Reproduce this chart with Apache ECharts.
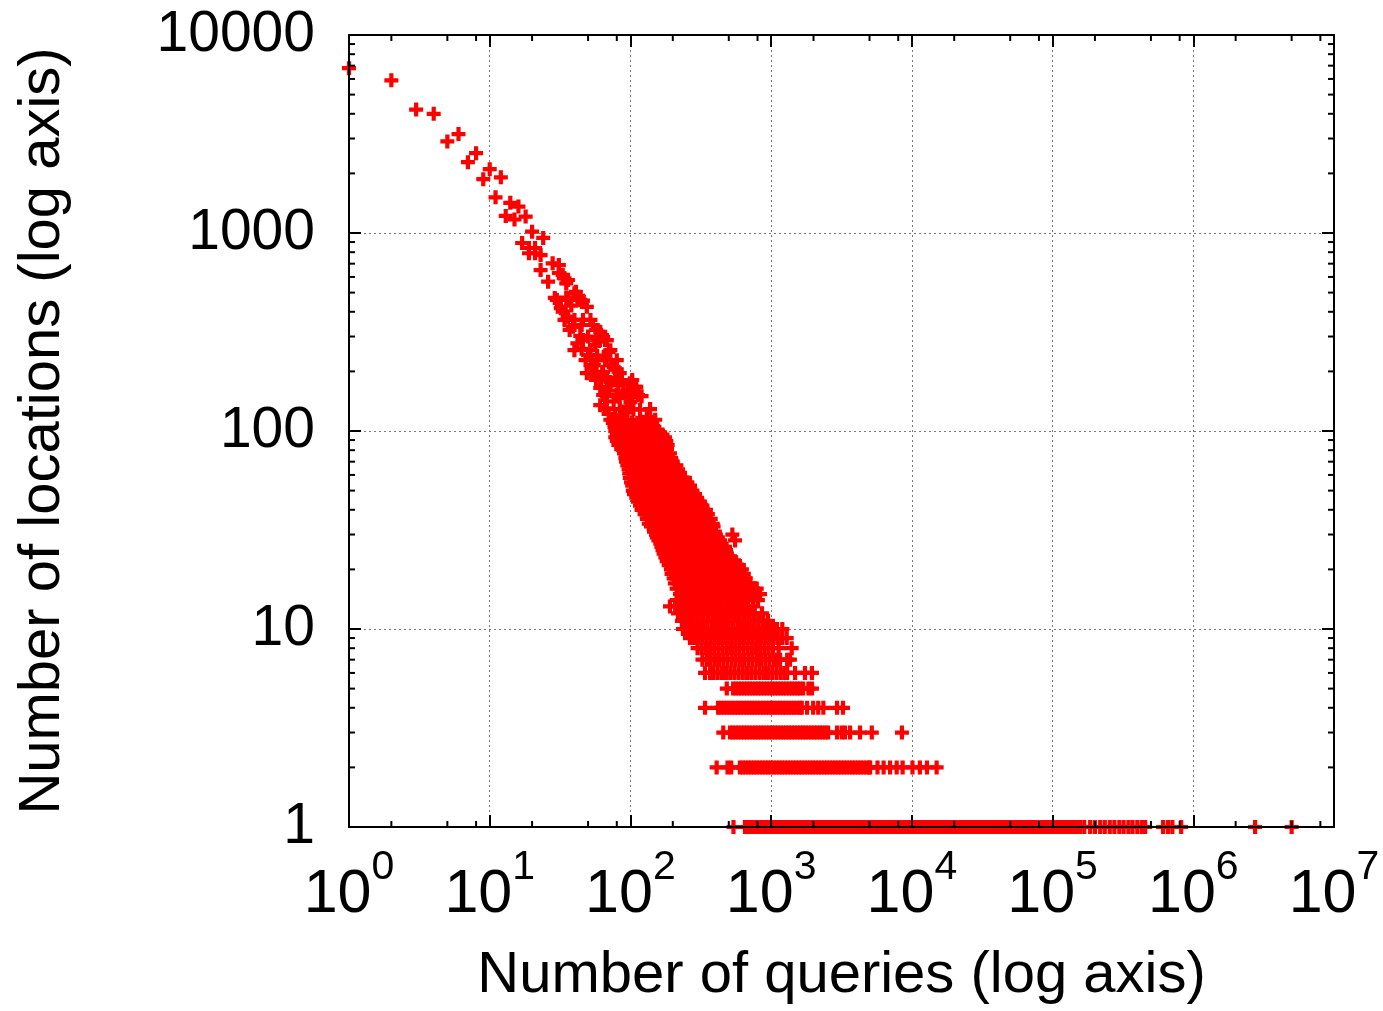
<!DOCTYPE html>
<html><head><meta charset="utf-8">
<script src="https://cdn.jsdelivr.net/npm/echarts@6/dist/echarts.min.js"></script>
<style>html,body{margin:0;padding:0;background:#fff;}#c{width:1383px;height:1011px;}</style>
</head><body><div id="c"></div>
<script>
// ---- axis settings ----
const xAxisTitle = 'Number of queries (log axis)';
const yAxisTitle = 'Number of locations (log axis)';
const xRange = [1, 1e7];
const yRange = [1, 10000];
const xMinorMultipliers = [2, 5, 8];
const yMinorMultipliers = [2, 3, 4, 5, 6, 7, 8, 9];

// ---- sparse head of the distribution: [queries, locations] read point by point ----
const headQueries = [1,2,3,4,5,6,7,8,9,10,11,12,13,14,15,16,17,18,19,19,20,21,21,23,23,24,26,28,31,33,36,34,35,30,40,43,42,32,49,46,33,36,54,39,61,57,64,66,42,52,72,70,48,58,50,76,49,63,64,84,99,72,62,108,110,89,61,61,76,94,117,78,131,
  34,37,44,40,56,53,72,78,70,84,92,103,66,58,45,38,35,46,29,41,31,68,82,95,100,88,70,120,57,67,80,60,50,45,55,
  57,68,87,103,64,80,96,113,68,84,105,138,72,92,117,150,53,66,80,46,58,68,40,52,36,44];
const headLocations = [6800,5900,4200,4000,2900,3160,2280,2530,1870,2100,1515,1910,1220,1420,1170,1360,890,1210,840,790,1016,840,790,774,650,944,568,703,689,614,579,590,557,459,496,476,468,417,424,364,401,378,343,336,317,324,299,288,277,256,256,251,228,228,242,211,196,196,199,196,174,177,167,167,167,155,135,165,141,133,128,118,118,
  364,324,302,256,272,207,216,185,160,148,124,148,130,240,343,430,472,455,470,505,628,150,170,160,140,120,122,150,190,230,205,285,300,260,215,
  181,181,181,181,152,152,152,152,129,129,129,129,114,114,114,114,228,228,228,288,288,288,364,364,459,459];

// ---- dense cloud: for each location count, the query counts seen on that row ----
const rowCounts = [110,105,100,96,93,89,85,81,77,73,70,67,64,61,58,55,53,50,48,46,44,42,40,38,36,34,33,31,30,29,28,27,26,25,24,23,22,21,20,19,18,17,16,15,14,13,12,11];
const rowQueries = [
  [75,81,87,95,103,112,122,132,143],
  [77,83,90,98,106,115,125,136,148],
  [78,84,92,99,108,117,127,138,150,157],
  [80,87,95,103,112,122,133,144,156,169],
  [78,85,92,100,109,118,128,139,151,164,176],
  [80,88,96,104,113,123,134,146,158,172,180],
  [82,89,97,105,114,124,135,147,160,174,184],
  [86,93,101,110,120,130,141,154,167,182],
  [90,98,106,115,125,136,148,161,175,191],
  [92,100,108,118,128,139,151,164,178,195],
  [93,101,110,120,130,142,154,168,183,200],
  [95,103,112,122,133,144,157,170,185,201,212],
  [97,105,114,124,135,147,160,174,189,206,218],
  [98,106,115,126,137,149,162,176,191,208,224],
  [99,108,117,127,138,150,163,177,193,210,228,244],
  [101,110,120,130,141,153,167,181,197,214,233,254],
  [103,112,122,132,144,157,171,186,202,220,240,265],
  [104,113,123,134,145,158,172,187,203,221,241,262,276],
  [106,115,125,136,148,161,175,190,207,225,245,266,288],
  [110,120,130,141,153,167,181,197,214,233,254,276,298],
  [113,123,134,146,159,173,188,204,222,242,263,286,312],
  [117,127,138,150,163,177,193,210,228,248,270,294,325],
  [120,131,142,155,168,183,199,216,235,256,279,303,344],
  [126,137,149,162,176,191,208,226,246,267,291,316,355],
  [131,142,155,168,183,199,216,235,256,279,303,330,372],
  [135,147,160,174,189,205,223,243,264,287,312,340,385],
  [140,152,166,180,196,213,232,252,274,298,324,352,390],
  [147,160,174,189,205,223,243,264,287,312,340,370,398],
  [152,165,180,196,213,232,252,274,298,324,352,383,405,530],
  [154,168,183,199,216,235,256,278,302,328,357,388,418],
  [158,172,187,203,221,240,261,284,309,336,365,397,433,554],
  [163,177,193,210,228,248,270,294,319,347,378,411,445],
  [166,180,196,213,232,252,274,298,324,352,383,416,452,470],
  [169,184,200,217,236,257,279,304,330,359,391,425,462,478],
  [172,187,203,221,240,261,284,309,336,365,397,432,470,485],
  [177,192,209,227,247,269,292,318,346,376,409,445,484,520],
  [181,197,214,233,253,275,299,325,353,384,418,454,494,537,554],
  [187,204,222,241,262,285,310,337,367,399,434,472,513,558,590],
  [194,211,229,249,271,295,320,348,378,411,447,486,528,574,620],
  [196,213,232,252,274,298,324,352,383,416,452,492,535,582,640],
  [203,221,240,261,284,309,336,365,397,432,470,511,555,604,660],
  [207,225,245,266,289,314,342,372,404,439,477,519,564,613,666,708],
  [213,232,252,274,298,324,352,383,416,452,492,535,582,633,688,748,790],
  [225,245,266,289,314,342,372,404,439,477,519,564,613,666,724,790,834],
  [213,232,252,274,298,324,352,383,416,452,492,535,582,633,688,748,805],
  [191,208,226,246,267,290,316,343,373,406,441,480,522,567,617,670,745],
  [218,237,258,280,305,331,360,392,426,463,503,547,595,647,703,765,860],
  [232,252,274,298,324,352,383,416,452,492,535,582,633,688,748,813,880,950]
];

// ---- low-count bands (locations = 10 ... 1) ----
const band10 = [236,252,270,289,309,331,354,380,405,436,466,500,535,574,614,659,705,756,810,868,930,996,1066,1100,1200];
const band9 = [265,283,302,324,347,371,398,426,457,489,524,560,601,643,690,738,792,847,909,973,1043,1116,1197,1290];
const band8 = [300,321,344,368,394,422,452,484,518,555,594,636,681,729,781,836,895,958,1030,1130,1400];
const band7 = [325,350,372,398,426,457,489,524,560,601,643,690,738,792,847,909,973,1043,1100,1157,1300,1360];
const band6 = [339,368,390,417,447,478,512,548,587,629,674,722,773,829,888,951,1019,1092,1170,1253,1300,1480,1740,1950];
const band5 = [484,537,560,587,614,643,674,705,738,773,810,847,888,930,973,1019,1066,1116,1170,1225,1282,1343,1406,1472,1540,1605,1690,1840,1950];
const band4 = [339,420,440,461,483,506,530,555,581,608,637,667,698,731,765,801,839,878,920,963,1008,1056,1105,1157,1212,1269,1329,1391,1457,1525,1597,1650,1800,1990,2160,2350,2940,3240];
const band3 = [457,510,534,559,585,613,642,672,703,736,771,807,845,885,926,970,1015,1063,1113,1165,1220,1277,1337,1400,1466,1535,1607,1682,1761,1844,1931,2022,2117,2216,2320,2429,2540,2940,3170,3350,3640,4280,5190,8500];
const band2 = [410,490,520,600,628,658,689,721,755,791,828,867,908,950,995,1042,1091,1142,1196,1252,1311,1373,1437,1505,1575,1649,1727,1808,1893,1982,2075,2173,2275,2382,2494,2611,2734,2862,2997,3138,3285,3440,3601,3771,3948,4133,4328,4531,4744,4967,5050,5700,6300,7000,7800,8600,10100,11400,12800,15000];
const band1 = [540,652,683,715,749,784,821,860,900,942,987,1033,1082,1133,1186,1242,1300,1361,1425,1492,1562,1636,1713,1793,1877,1966,2058,2155,2256,2362,2473,2590,2711,2839,2972,3112,3258,3411,3572,3740,3915,4100,4292,4494,4705,4927,5158,5401,5655,5920,6199,6490,6795,7115,7449,7799,8166,8550,8951,9372,9813,10270,10760,11260,11790,12350,12930,13540,14170,14840,15540,16270,17030,17830,18670,19550,20470,21430,22440,23490,24600,25750,26960,28230,29560,30950,32400,33930,35520,37190,38940,40770,42690,44690,46800,49000,51300,53710,56230,58880,61640,64540,67580,70750,74080,77560,81210,85030,89030,93210,97600,102200,107000,112000,117300,122800,128600,134600,141000,147600,154500,157000,168000,185000,200000,218000,235000,255000,275000,298000,320000,346000,370000,400000,430000,455000,610000,660000,710000,820000,2750000,5000000];
const bandCounts = [10,9,8,7,6,5,4,3,2,1];
const bandQueries = [band10,band9,band8,band7,band6,band5,band4,band3,band2,band1];

// ---- build data ----
const points = [];
headQueries.forEach((q, i) => points.push([q, headLocations[i]]));
rowCounts.forEach((c, i) => rowQueries[i].forEach(q => points.push([q, c])));
bandCounts.forEach((c, i) => bandQueries[i].forEach(q => points.push([q, c])));

const xMinor = [], yMinor = [];
for (let e = 0; e < 7; e++) xMinorMultipliers.forEach(m => xMinor.push([m * Math.pow(10, e), 1]));
for (let e = 0; e < 4; e++) yMinorMultipliers.forEach(m => yMinor.push([1, m * Math.pow(10, e)]));

const FONT = 'Liberation Sans';
const plus = 'path://M7,0H13V7H20V13H13V20H7V13H0V7H7Z';
const tickStyle = {color: '#000', width: 2};
const gridLine = {show: true, lineStyle: {color: '#7a7a7a', width: 1, type: [2, 3]}};

const chart = echarts.init(document.getElementById('c'), null, {renderer: 'canvas'});
chart.setOption({
  animation: false,
  backgroundColor: '#fff',
  grid: {left: 349, right: 49, top: 35, bottom: 184, containLabel: false},
  xAxis: [
    {type: 'log', logBase: 10, min: xRange[0], max: xRange[1], position: 'bottom', z: 10,
     name: xAxisTitle, nameLocation: 'middle', nameGap: 120,
     nameTextStyle: {fontFamily: FONT, fontSize: 58, color: '#000'},
     axisLine: {show: true, lineStyle: {color: '#000', width: 2}},
     axisTick: {show: true, inside: true, length: 12, lineStyle: tickStyle},
     splitLine: {show: false}, minorTick: {show: false},
     axisLabel: {margin: 20, showMinLabel: true, showMaxLabel: true,
       formatter: v => '{b|10}{s|' + Math.round(Math.log10(v)) + '}',
       rich: {b: {fontFamily: FONT, fontSize: 61, color: '#000', lineHeight: 96},
              s: {fontFamily: FONT, fontSize: 41, color: '#000', lineHeight: 41, verticalAlign: 'top'}}}},
    {type: 'log', logBase: 10, min: xRange[0], max: xRange[1], position: 'top', z: 0,
     axisLine: {show: true, lineStyle: {color: '#000', width: 2}},
     axisTick: {show: true, inside: true, length: 12, lineStyle: tickStyle},
     axisLabel: {show: false}, splitLine: gridLine}
  ],
  yAxis: [
    {type: 'log', logBase: 10, min: yRange[0], max: yRange[1], position: 'left', z: 10,
     name: yAxisTitle, nameLocation: 'middle', nameGap: 277, nameRotate: 90,
     nameTextStyle: {fontFamily: FONT, fontSize: 58, color: '#000'},
     axisLine: {show: true, lineStyle: {color: '#000', width: 2}},
     axisTick: {show: true, inside: true, length: 12, lineStyle: tickStyle},
     splitLine: {show: false},
     axisLabel: {margin: 34, fontFamily: FONT, fontSize: 57, color: '#000', showMinLabel: true, showMaxLabel: true,
       formatter: v => String(Math.round(v))}},
    {type: 'log', logBase: 10, min: yRange[0], max: yRange[1], position: 'right', z: 0,
     axisLine: {show: true, lineStyle: {color: '#000', width: 2}},
     axisTick: {show: true, inside: true, length: 12, lineStyle: tickStyle},
     axisLabel: {show: false}, splitLine: gridLine}
  ],
  series: [
    {type: 'scatter', xAxisIndex: 0, yAxisIndex: 0, data: points, symbol: plus, symbolSize: 14,
     itemStyle: {color: '#ff0000', opacity: 1}, clip: false, z: 2, silent: true, large: false, progressive: 0},
    {type: 'custom', xAxisIndex: 0, yAxisIndex: 0, data: xMinor, encode: {x: 0, y: 1}, clip: false, z: 11, silent: true,
     renderItem: (params, api) => {
       const p = api.coord([api.value(0), api.value(1)]);
       const cs = params.coordSys;
       return {type: 'group', children: [
         {type: 'line', shape: {x1: p[0], y1: cs.y + cs.height, x2: p[0], y2: cs.y + cs.height - 6}, style: {stroke: '#000', lineWidth: 2}},
         {type: 'line', shape: {x1: p[0], y1: cs.y, x2: p[0], y2: cs.y + 6}, style: {stroke: '#000', lineWidth: 2}}
       ]};
     }},
    {type: 'custom', xAxisIndex: 0, yAxisIndex: 0, data: yMinor, encode: {x: 0, y: 1}, clip: false, z: 11, silent: true,
     renderItem: (params, api) => {
       const p = api.coord([api.value(0), api.value(1)]);
       const cs = params.coordSys;
       return {type: 'group', children: [
         {type: 'line', shape: {x1: cs.x, y1: p[1], x2: cs.x + 6, y2: p[1]}, style: {stroke: '#000', lineWidth: 2}},
         {type: 'line', shape: {x1: cs.x + cs.width, y1: p[1], x2: cs.x + cs.width - 6, y2: p[1]}, style: {stroke: '#000', lineWidth: 2}}
       ]};
     }}
  ]
});
</script></body></html>
